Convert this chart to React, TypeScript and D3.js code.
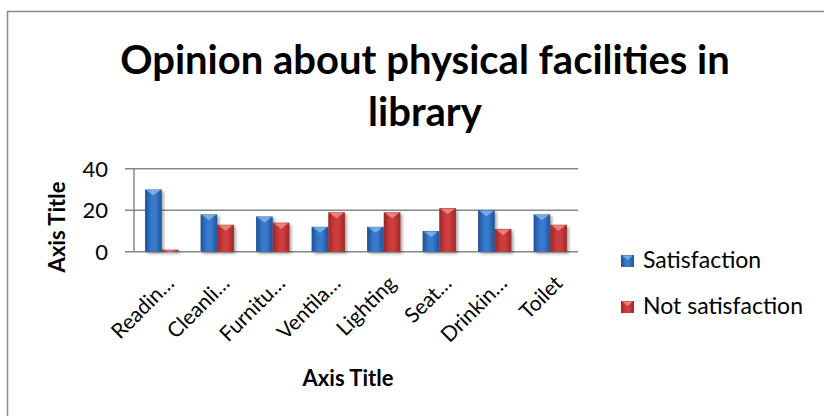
import React from "react";
import * as d3 from "d3";

// Category tick labels as they appear on the axis
const categories = [
  "Readin…",
  "Cleanli…",
  "Furnitu…",
  "Ventila…",
  "Lighting",
  "Seat…",
  "Drinkin…",
  "Toilet",
];

// Respondent counts per facility
const satisfaction = [30, 18, 17, 12, 12, 10, 20, 18];
const notSatisfaction = [1, 13, 14, 19, 19, 21, 11, 13];

const yTicks = [0, 20, 40];

const seriesNames = ["Satisfaction", "Not satisfaction"];

const W = 824;
const H = 416;
const FONT = "Lato, 'Open Sans', sans-serif";

const plot = { left: 134, right: 578, top: 168.7, bottom: 251.7 };

export default function App() {
  const x = d3
    .scaleBand<string>()
    .domain(categories)
    .range([plot.left, plot.right])
    .paddingInner(0)
    .paddingOuter(0);
  const y = d3.scaleLinear().domain([0, 40]).range([plot.bottom, plot.top]);

  const step = x.step();
  const barW = step * 0.3;

  const series = [
    { name: seriesNames[0], values: satisfaction, grad: "gBlue", cap: "#8dbbf0" },
    { name: seriesNames[1], values: notSatisfaction, grad: "gRed", cap: "#f09a98" },
  ];

  return (
    <svg
      width={W}
      height={H}
      style={{ position: "absolute", left: 0, top: 0, background: "#fff" }}
      fontFamily={FONT}
    >
      <defs>
        <linearGradient id="gBlue" x1="0" x2="1" y1="0" y2="0">
          <stop offset="0" stopColor="#1d4f93" />
          <stop offset="0.35" stopColor="#3677c9" />
          <stop offset="0.6" stopColor="#3a7ccd" />
          <stop offset="1" stopColor="#1f5298" />
        </linearGradient>
        <linearGradient id="gRed" x1="0" x2="1" y1="0" y2="0">
          <stop offset="0" stopColor="#972627" />
          <stop offset="0.35" stopColor="#cc3a3b" />
          <stop offset="0.6" stopColor="#d03e3e" />
          <stop offset="1" stopColor="#9c2829" />
        </linearGradient>
        <filter id="shadow" x="-30%" y="-10%" width="160%" height="130%">
          <feGaussianBlur in="SourceAlpha" stdDeviation="1.6" />
          <feOffset dx="1.5" dy="1.5" result="b" />
          <feComponentTransfer>
            <feFuncA type="linear" slope="0.35" />
          </feComponentTransfer>
          <feMerge>
            <feMergeNode />
            <feMergeNode in="SourceGraphic" />
          </feMerge>
        </filter>
      </defs>

      {/* chart frame */}
      <rect
        x={7.5}
        y={11.5}
        width={W + 20}
        height={H + 20}
        fill="none"
        stroke="#8a8a8a"
        strokeWidth={1.5}
      />

      {/* title */}
      <text x={425} y={74} textAnchor="middle" fontWeight="bold" fontSize={40} fill="#000">
        Opinion about physical facilities in
      </text>
      <text x={425} y={126} textAnchor="middle" fontWeight="bold" fontSize={40} fill="#000">
        library
      </text>

      {/* gridlines + y ticks */}
      {yTicks.map((t) => (
        <g key={t}>
          <line
            x1={125}
            x2={plot.right}
            y1={y(t)}
            y2={y(t)}
            stroke="#878787"
            strokeWidth={1.5}
          />
          <text x={108} y={y(t)} dy="0.36em" textAnchor="end" fontSize={22} fill="#000">
            {t}
          </text>
        </g>
      ))}
      <line
        x1={plot.left}
        x2={plot.left}
        y1={plot.top}
        y2={plot.bottom}
        stroke="#878787"
        strokeWidth={1.5}
      />

      {/* bars */}
      {series.map((s, si) => (
        <g key={s.name} filter="url(#shadow)">
          {categories.map((c, i) => {
            const cx = (x(c) as number) + step / 2;
            const bx = cx - barW + si * barW;
            const top = y(s.values[i]);
            const h = plot.bottom - top;
            const tri = Math.min(6, h);
            return (
              <g key={c}>
                <rect x={bx} y={top} width={barW} height={h} fill={`url(#${s.grad})`} />
                {h > 2 && (
                  <path
                    d={`M${bx + 1},${top + 0.5} L${bx + barW - 1},${top + 0.5} L${
                      bx + barW / 2
                    },${top + tri} Z`}
                    fill={s.cap}
                    opacity={0.75}
                  />
                )}
              </g>
            );
          })}
        </g>
      ))}

      {/* category labels */}
      {categories.map((c) => {
        const cx = (x(c) as number) + step / 2 + 3;
        const ty = 274;
        return (
          <text
            key={c}
            x={cx}
            y={ty}
            dy="0.72em"
            textAnchor="end"
            fontSize={21}
            fill="#000"
            transform={`rotate(-45 ${cx} ${ty})`}
          >
            {c}
          </text>
        );
      })}

      {/* axis titles */}
      <text
        x={0}
        y={0}
        transform={`translate(65 227) rotate(-90)`}
        textAnchor="middle"
        fontWeight="bold"
        fontSize={22}
        fill="#000"
      >
        Axis Title
      </text>
      <text x={348} y={386} textAnchor="middle" fontWeight="bold" fontSize={22} fill="#000">
        Axis Title
      </text>

      {/* legend */}
      {series.map((s, i) => (
        <g key={s.name} transform={`translate(621 ${255 + i * 46})`}>
          <rect width={13} height={12} fill={`url(#${s.grad})`} />
          <path d="M1,0.5 L12,0.5 L6.5,5 Z" fill={s.cap} opacity={0.75} />
          <text x={22} y={12.5} fontSize={23} fill="#000">
            {s.name}
          </text>
        </g>
      ))}
    </svg>
  );
}
